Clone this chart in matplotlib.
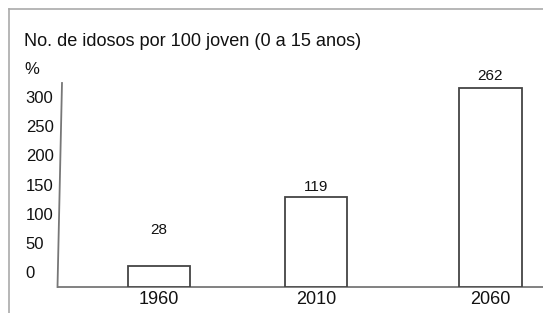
import matplotlib
matplotlib.use("Agg")
import matplotlib.pyplot as plt
from matplotlib.lines import Line2D

plt.rcParams['font.family'] = ['Liberation Sans', 'DejaVu Sans']

years = ["1960", "2010", "2060"]
values = [28, 119, 262]
tick_values = [0, 50, 100, 150, 200, 250, 300]
title = "No. de idosos por 100 joven (0 a 15 anos)"
unit = "%"

W, H = 543, 313
fig = plt.figure(figsize=(W / 100, H / 100), dpi=100)

# frame border (top and left)
fig.add_artist(Line2D([9 / W, 9 / W], [0, 1 - 9 / H], color="#aaaaaa", lw=1.2))
fig.add_artist(Line2D([9 / W, 1], [1 - 9 / H, 1 - 9 / H], color="#aaaaaa", lw=1.2))

ax_l, ax_r, ax_b, ax_t = 58, 543, 287, 84
rect = [ax_l / W, 1 - ax_b / H, (ax_r - ax_l) / W, (ax_b - ax_t) / H]
ax = fig.add_axes(rect)

xpos = [0, 1, 2.11]
ax.bar(xpos, values, width=0.40, facecolor="white", edgecolor="#444444", linewidth=1.3, zorder=3)
offsets = [21, 1.5, 3.5]
for x, v, off in zip(xpos, values, offsets):
    ax.annotate(str(v), (x, v), xytext=(0, off), textcoords="offset points",
                ha="center", va="bottom", fontsize=11, color="#111111")

ax.set_xlim(-0.643, 2.446)
ax.set_ylim(0, 267)
ax.set_xticks(xpos)
ax.set_xticklabels(years, fontsize=13)
ax.tick_params(axis="x", length=0, pad=3, colors="#111111")
ax.set_yticks([])
for s in ["top", "right", "left"]:
    ax.spines[s].set_visible(False)
ax.spines["bottom"].set_color("#777777")
ax.spines["bottom"].set_linewidth(1.3)

# slightly slanted hand-drawn y axis line
fig.add_artist(Line2D([62 / W, 57.5 / W], [1 - 83 / H, 1 - 287 / H], color="#777777", lw=1.3))

# separate label scale for the y ticks (as drawn in the reference)
ax2 = fig.add_axes(rect, frameon=False)
ax2.set_ylim(-25.7, 322.5)
ax2.set_xticks([])
ax2.set_yticks(tick_values)
ax2.set_yticklabels([str(t) for t in tick_values], fontsize=12)
ax2.tick_params(axis="y", length=0, pad=23.3, colors="#111111")
for lab in ax2.get_yticklabels():
    lab.set_horizontalalignment("left")

fig.text(24 / W, 1 - 42 / H, title, fontsize=13.1, va="center", ha="left", color="#111111")
fig.text(24 / W, 1 - 69 / H, unit, fontsize=12, va="center", ha="left", color="#111111")

fig.savefig("out.png", dpi=100)
